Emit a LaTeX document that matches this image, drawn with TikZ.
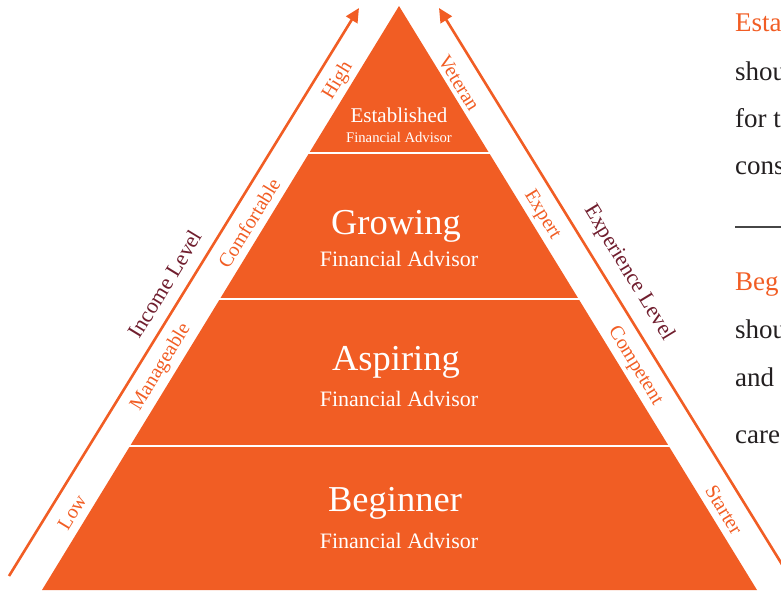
\documentclass[tikz,border=0pt]{standalone}
\usepackage{fontspec}
\setmainfont{Liberation Serif}
\usetikzlibrary{arrows.meta}
\definecolor{pyr}{RGB}{241,93,36}
\definecolor{axiscol}{RGB}{112,30,46}
\definecolor{ink}{RGB}{35,31,32}
\definecolor{rulegray}{RGB}{70,70,70}
\tikzset{
 tiername/.style={text=white, font=\fontsize{36.5}{38}\selectfont, inner sep=0pt, anchor=base},
 tiersub/.style={text=white, font=\fontsize{22}{24}\selectfont, inner sep=0pt, anchor=base},
 topname/.style={text=white, font=\fontsize{21}{22}\selectfont, inner sep=0pt, anchor=base},
 topsub/.style={text=white, font=\fontsize{14.7}{16}\selectfont, inner sep=0pt, anchor=base},
 sidelab/.style={text=pyr, font=\fontsize{20}{21}\selectfont, inner sep=0pt},
 axislab/.style={text=axiscol, font=\fontsize{22}{23}\selectfont, inner sep=0pt},
 axisarrow/.style={draw=pyr, line width=2.6pt, -{Triangle[length=14pt,width=13pt]}},
 sepline/.style={draw=white, line width=2.5pt},
 bodytext/.style={font=\fontsize{27}{28}\selectfont, inner sep=0pt, anchor=base west},
}
\begin{document}
\begin{tikzpicture}[x=1pt,y=-1pt]
\useasboundingbox (0,0) rectangle (781,590);
\clip (0,0) rectangle (781,590);
% pyramid
\coordinate (apex) at (399,6);
\coordinate (bl) at (42,590);
\coordinate (br) at (757,590);
\fill[pyr] (apex) -- (bl) -- (br) -- cycle;
\coordinate (s1l) at (300,153); \coordinate (s1r) at (500,153);
\coordinate (s2l) at (210,299); \coordinate (s2r) at (590,299);
\coordinate (s3l) at (120,446); \coordinate (s3r) at (680,446);
\draw[sepline] (s1l) -- (s1r);
\draw[sepline] (s2l) -- (s2r);
\draw[sepline] (s3l) -- (s3r);
% tier labels
\node[topname] (t1a) at (399,122) {Established};
\node[topsub] (t1b) at (399,142) {Financial Advisor};
\node[tiername] (t2a) at (396,234) {Growing};
\node[tiersub] (t2b) at (399,266) {Financial Advisor};
\node[tiername] (t3a) at (396,370) {Aspiring};
\node[tiersub] (t3b) at (399,406) {Financial Advisor};
\node[tiername] (t4a) at (395,511) {Beginner};
\node[tiersub] (t4b) at (399,548) {Financial Advisor};
% axis arrows
\coordinate (la0) at (9,576); \coordinate (la1) at (359,8);
\coordinate (ra0) at (783,566); \coordinate (ra1) at (439,8);
\draw[axisarrow] (la0) -- (la1);
\draw[axisarrow] (ra0) -- (ra1);
% left labels
\node[sidelab, rotate=58.6] (low) at (72,512) {Low};
\node[sidelab, rotate=58.6] (man) at (161,367) {Manageable};
\node[sidelab, rotate=58.6] (com) at (249,223) {Comfortable};
\node[sidelab, rotate=58.6] (hig) at (338,81) {High};
\node[axislab, rotate=58.6] (inc) at (165,284) {Income Level};
% right labels
\node[sidelab, rotate=-58.6] (vet) at (459,83) {Veteran};
\node[sidelab, rotate=-58.6] (exp) at (542,215) {Expert};
\node[sidelab, rotate=-58.6] (cmp) at (635,366) {Competent};
\node[sidelab, rotate=-58.6] (sta) at (724,510) {Starter};
\node[axislab, rotate=-58.6] (exl) at (629,273) {Experience Level};
% right column text (cut at the edge)
\node[bodytext, text=pyr] (r1) at (735,31) {Esta};
\node[bodytext, text=ink] (r2) at (735,80) {shou};
\node[bodytext, text=ink] (r3) at (735,127) {for t};
\node[bodytext, text=ink] (r4) at (735,174) {cons};
\coordinate (rl0) at (735,227); \coordinate (rl1) at (785,227);
\draw[rulegray, line width=1.8pt] (rl0) -- (rl1);
\node[bodytext, text=pyr] (r5) at (735,290) {Beg};
\node[bodytext, text=ink] (r6) at (735,338) {shou};
\node[bodytext, text=ink] (r7) at (735,386) {and};
\node[bodytext, text=ink] (r8) at (735,443) {care};
\end{tikzpicture}
\end{document}
